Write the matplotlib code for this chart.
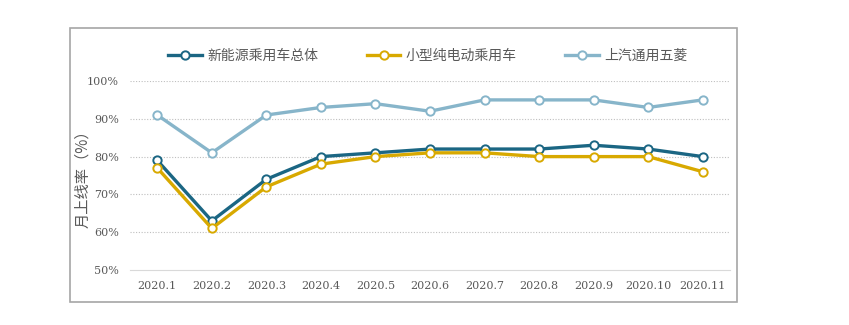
import matplotlib.pyplot as plt
from matplotlib.patches import Rectangle

plt.rcParams['font.family'] = ['Noto Sans CJK SC', 'DejaVu Sans']

# data
months = ['2020.1', '2020.2', '2020.3', '2020.4', '2020.5', '2020.6',
          '2020.7', '2020.8', '2020.9', '2020.10', '2020.11']
total_nev = [79, 63, 74, 80, 81, 82, 82, 82, 83, 82, 80]
small_bev = [77, 61, 72, 78, 80, 81, 81, 80, 80, 80, 76]
sgmw = [91, 81, 91, 93, 94, 92, 95, 95, 95, 93, 95]
series_names = ['新能源乘用车总体', '小型纯电动乘用车', '上汽通用五菱']
colors = ['#1b6683', '#d8a900', '#87b5ca']

fig = plt.figure(figsize=(8.49, 3.25), dpi=100)
# outer grey frame
fig.patches.append(Rectangle((70 / 849, 1 - 302 / 325), 667 / 849, 274 / 325,
                             transform=fig.transFigure, fill=False,
                             edgecolor='#a6a6a6', linewidth=1.2))

ax = fig.add_axes([130 / 849, 1 - 270 / 325, 600 / 849, 189 / 325])
x = list(range(len(months)))
for vals, name, c in zip([total_nev, small_bev, sgmw], series_names, colors):
    ax.plot(x, vals, color=c, linewidth=2.4, marker='o', markersize=6,
            markerfacecolor='white', markeredgecolor=c, markeredgewidth=1.4,
            label=name, zorder=3)

ax.set_xlim(-0.5, len(months) - 0.5)
ax.set_ylim(50, 100)
ax.set_yticks([50, 60, 70, 80, 90, 100])
ax.set_yticklabels([f'{v}%' for v in [50, 60, 70, 80, 90, 100]],
                   family='DejaVu Serif', fontsize=8, color='#595959')
ax.set_xticks(x)
ax.set_xticklabels(months, family='DejaVu Serif', fontsize=8, color='#595959')
ax.tick_params(length=0, pad=8)
for s in ['top', 'right', 'left']:
    ax.spines[s].set_visible(False)
ax.spines['bottom'].set_color('#d9d9d9')
for v in [60, 70, 80, 90, 100]:
    ax.axhline(v, color='#bfbfbf', linestyle=(0, (1, 1.5)), linewidth=0.8, zorder=1)

ax.set_ylabel('月上线率（%）', fontsize=11, color='#595959')
ax.yaxis.set_label_coords(-0.065, 0.5)

fig.legend(loc='center', bbox_to_anchor=(428 / 849, 1 - 56 / 325), ncol=3,
           frameon=False, fontsize=10, handlelength=2.4, handletextpad=0.4,
           columnspacing=3.5, labelcolor='#595959')

fig.savefig('out.png', dpi=100)
